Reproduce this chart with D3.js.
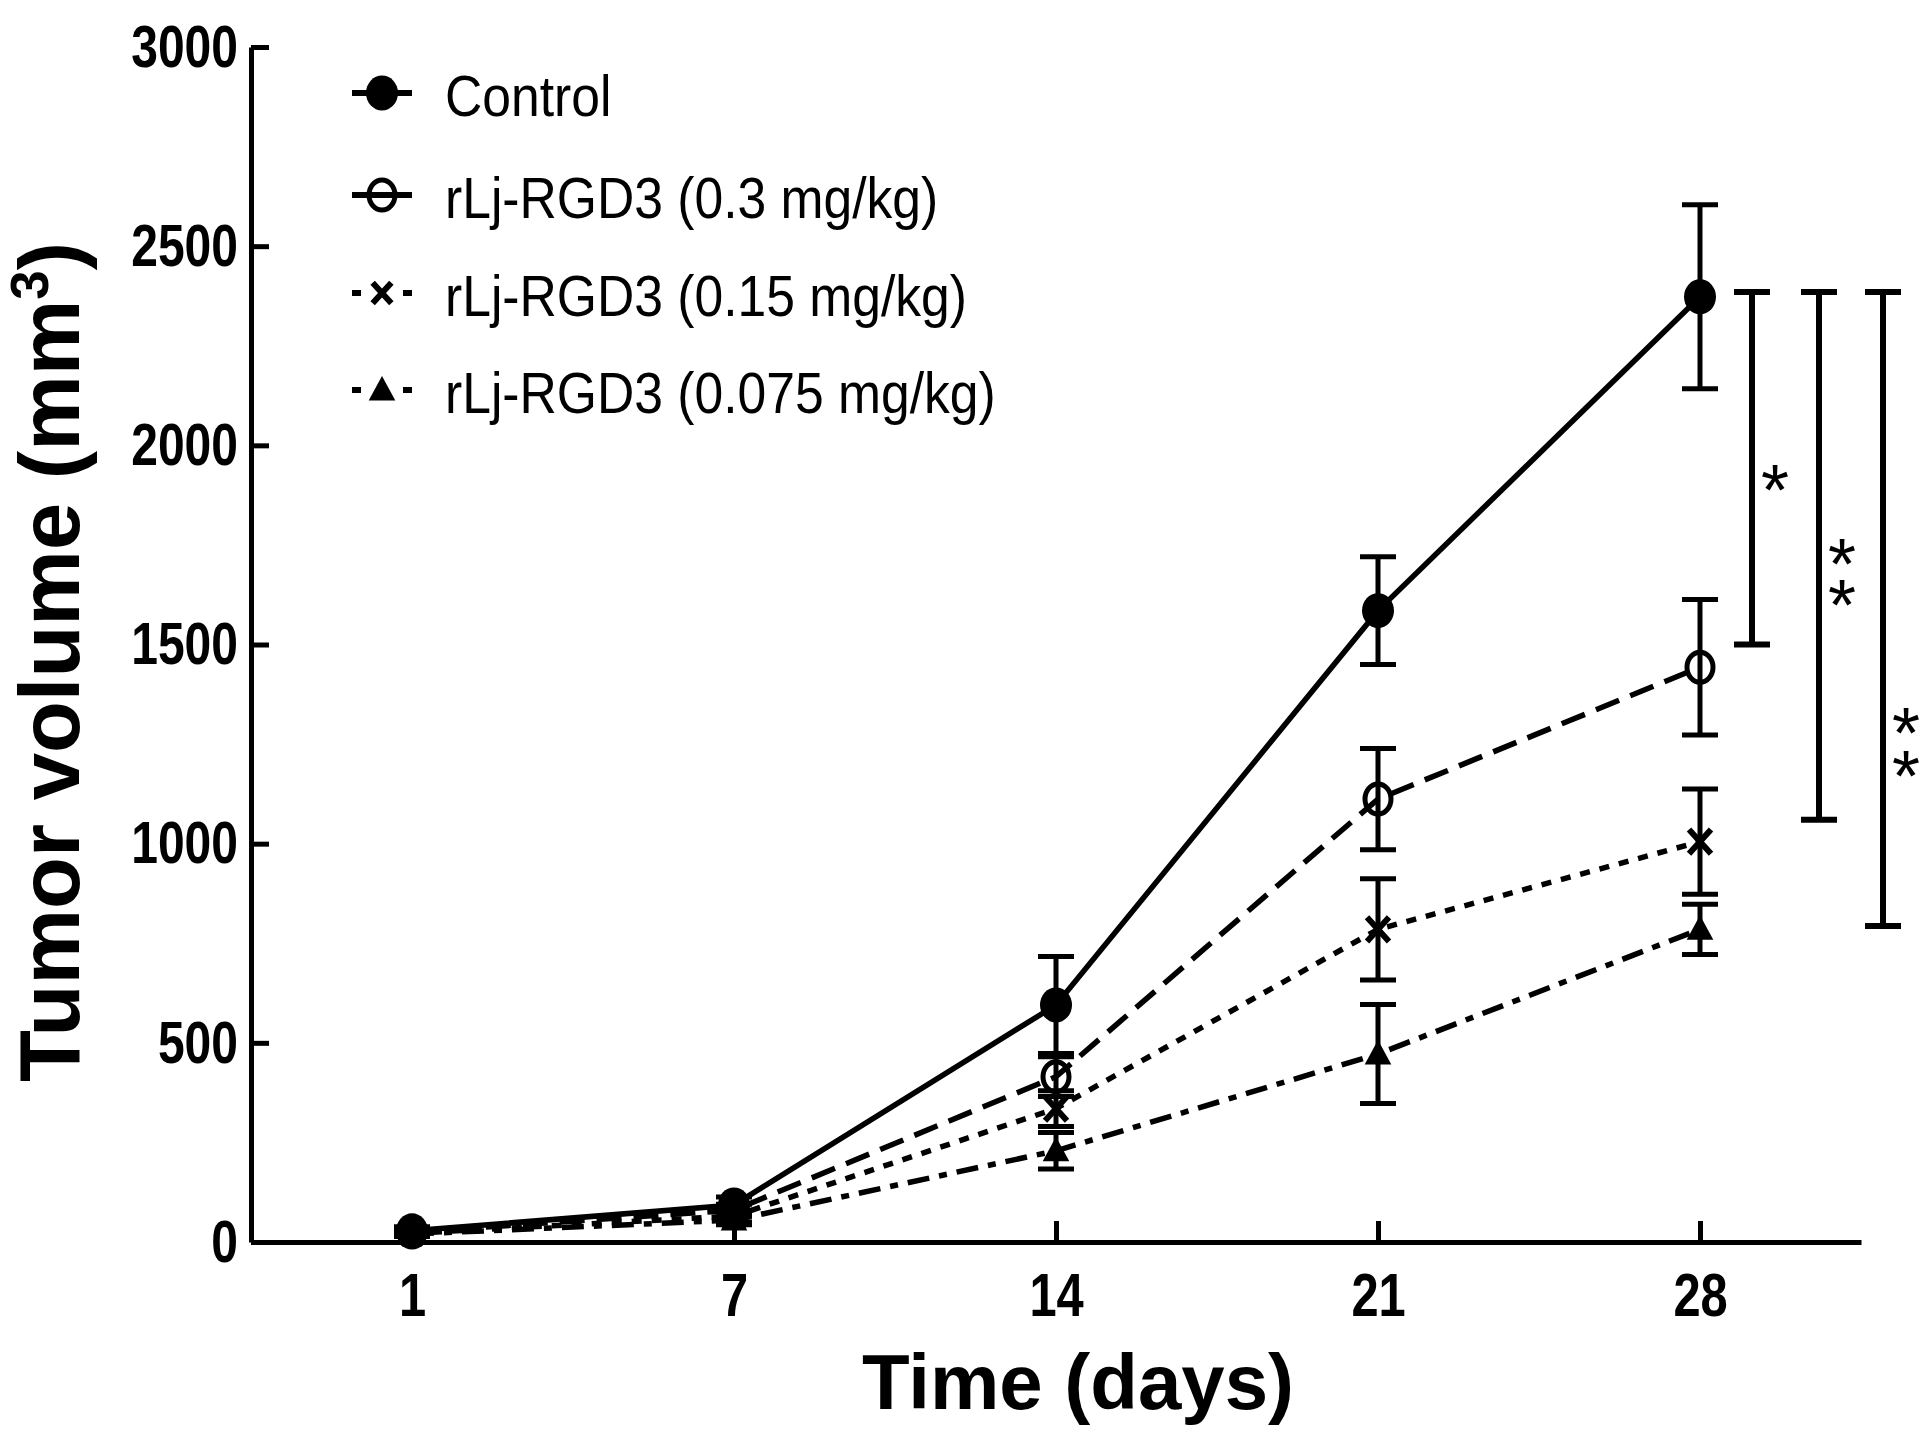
<!DOCTYPE html>
<html>
<head>
<meta charset="utf-8">
<script src="https://cdn.jsdelivr.net/npm/d3@7"></script>
<style>
  html, body { margin: 0; padding: 0; background: #fff; }
  svg { display: block; }
</style>
</head>
<body>
<script>
// ---------------- DATA ----------------
const days = ["1", "7", "14", "21", "28"];
const yTicks = [0, 500, 1000, 1500, 2000, 2500, 3000];

const seriesNames = ["Control", "rLj-RGD3 (0.3 mg/kg)", "rLj-RGD3 (0.15 mg/kg)", "rLj-RGD3 (0.075 mg/kg)"];
const controlMean  = [28, 93, 595, 1585, 2373];
const controlErr   = [10, 20, 122, 135, 231];
const dose03Mean   = [25, 80, 415, 1112, 1443];
const dose03Err    = [8, 15, 50, 127, 170];
const dose015Mean  = [22, 65, 335, 785, 1005];
const dose015Err   = [8, 15, 45, 127, 132];
const dose0075Mean = [20, 55, 229, 472, 785];
const dose0075Err  = [6, 12, 46, 124, 63];

const sigTop    = [2385, 2385, 2385];
const sigBottom = [1500, 1060, 793];
const sigLabels = ["*", "**", "**"];
const sigStarY  = [[1919], [1733, 1630], [1310, 1201]];

// ---------------- LAYOUT ----------------
const W = 1932, H = 1452;
const mLeft = 251, mRight = 1861, mTop = 47, mBottom = 1242;
const FONT = "'Liberation Sans', Arial, Helvetica, sans-serif";
const SX = 0.8; // horizontal squeeze of tick labels

const svg = d3.select("body").append("svg")
  .attr("width", W).attr("height", H)
  .attr("viewBox", `0 0 ${W} ${H}`);

const x = d3.scalePoint().domain(days).range([mLeft, mRight]).padding(0.5);
const y = d3.scaleLinear().domain([0, 3000]).range([mBottom, mTop]);

// axes
const yAxis = svg.append("g")
  .attr("transform", `translate(${mLeft},0)`)
  .call(d3.axisLeft(y).tickValues(yTicks).tickSizeInner(-18).tickSizeOuter(0).tickPadding(15).tickFormat(d3.format("d")));
yAxis.select(".domain").attr("stroke", "#000").attr("stroke-width", 5);
yAxis.selectAll(".tick line").attr("stroke", "#000").attr("stroke-width", 5);
yAxis.selectAll(".tick text")
  .attr("font-family", FONT).attr("font-weight", "bold").attr("font-size", 60)
  .attr("fill", "#000")
  .attr("x", -13 / SX)
  .attr("transform", `scale(${SX},1)`);

const xAxis = svg.append("g")
  .attr("transform", `translate(0,${mBottom})`)
  .call(d3.axisBottom(x).tickSizeInner(-21).tickSizeOuter(0).tickPadding(31));
xAxis.select(".domain").attr("stroke", "#000").attr("stroke-width", 5);
xAxis.selectAll(".tick line").attr("stroke", "#000").attr("stroke-width", 5);
xAxis.selectAll(".tick text")
  .attr("font-family", FONT).attr("font-weight", "bold").attr("font-size", 61)
  .attr("fill", "#000")
  .attr("transform", `scale(${SX},1)`);

// axis titles
svg.append("text")
  .attr("x", 1078).attr("y", 1409)
  .attr("text-anchor", "middle")
  .attr("font-family", FONT).attr("font-weight", "bold").attr("font-size", 78)
  .text("Time (days)");

const yt = svg.append("text")
  .attr("transform", `translate(79,662) rotate(-90)`)
  .attr("text-anchor", "middle")
  .attr("font-family", FONT).attr("font-weight", "bold").attr("font-size", 85);
yt.append("tspan").text("Tumor volume (mm");
yt.append("tspan").attr("dy", -31).attr("font-size", 53).text("3");
yt.append("tspan").attr("dy", 31).text(")");

// ---------------- SERIES ----------------
const series = [
  { name: seriesNames[0], mean: controlMean, err: controlErr, dash: null, legDash: null, marker: "filled" },
  { name: seriesNames[1], mean: dose03Mean, err: dose03Err, dash: "25,12", legDash: null, marker: "open" },
  { name: seriesNames[2], mean: dose015Mean, err: dose015Err, dash: "10,10", legDash: "9,42", marker: "cross" },
  { name: seriesNames[3], mean: dose0075Mean, err: dose0075Err, dash: "22,10,8,10", legDash: "9,42", marker: "triangle" }
];

const line = d3.line().x((d, i) => x(days[i])).y(d => y(d));
const capW = 18;

function drawMarker(g, type, cx, cy, scale) {
  const s = scale || 1;
  if (type === "filled") {
    g.append("ellipse").attr("cx", cx).attr("cy", cy).attr("rx", 16 * s).attr("ry", 17.5 * s).attr("fill", "#000");
  } else if (type === "open") {
    g.append("ellipse").attr("cx", cx).attr("cy", cy).attr("rx", 13 * s).attr("ry", 15 * s)
      .attr("fill", "none").attr("stroke", "#000").attr("stroke-width", 5);
  } else if (type === "cross") {
    const r = 11 * s;
    g.append("path").attr("d", `M${cx - r},${cy - r * 1.1}L${cx + r},${cy + r * 1.1}M${cx - r},${cy + r * 1.1}L${cx + r},${cy - r * 1.1}`)
      .attr("stroke", "#000").attr("stroke-width", 6).attr("fill", "none");
  } else if (type === "triangle") {
    const r = 14 * s;
    g.append("path").attr("d", `M${cx},${cy - r}L${cx + r * 0.95},${cy + r * 0.75}L${cx - r * 0.95},${cy + r * 0.75}Z`)
      .attr("fill", "#000");
  }
}

// draw series in reverse order so control is on top
series.slice().reverse().forEach(s => {
  const g = svg.append("g");
  g.append("path")
    .attr("d", line(s.mean))
    .attr("fill", "none").attr("stroke", "#000").attr("stroke-width", 5.5)
    .attr("stroke-dasharray", s.dash);
  s.mean.forEach((m, i) => {
    const cx = x(days[i]);
    const y1 = y(m + s.err[i]), y0 = y(m - s.err[i]);
    g.append("path")
      .attr("d", `M${cx},${y1}L${cx},${y0}M${cx - capW},${y1}L${cx + capW},${y1}M${cx - capW},${y0}L${cx + capW},${y0}`)
      .attr("stroke", "#000").attr("stroke-width", 5).attr("fill", "none");
    drawMarker(g, s.marker, cx, y(m));
  });
});

// ---------------- SIGNIFICANCE BRACKETS ----------------
const sigX = [x("28") + 52, x("28") + 119, x("28") + 183];
const STAR_FS = 72;
const STAR_HALF_ADV = 0.389 * STAR_FS / 2;   // half glyph advance
const STAR_RISE = 0.52 * STAR_FS;            // glyph centre above baseline
sigTop.forEach((t, i) => {
  const sx = sigX[i];
  svg.append("path")
    .attr("d", `M${sx},${y(t)}L${sx},${y(sigBottom[i])}M${sx - 18},${y(t)}L${sx + 18},${y(t)}M${sx - 18},${y(sigBottom[i])}L${sx + 18},${y(sigBottom[i])}`)
    .attr("stroke", "#000").attr("stroke-width", 6).attr("fill", "none");
  const cx = sx + 23;
  const ys = sigStarY[i].map(v => y(v));
  if (sigLabels[i].length === 1) {
    svg.append("text")
      .attr("x", cx - STAR_HALF_ADV).attr("y", ys[0] + STAR_RISE)
      .attr("font-family", FONT).attr("font-size", STAR_FS)
      .text(sigLabels[i]);
  } else {
    // stacked stars: one text running upwards, each glyph turned back upright
    const lower = d3.max(ys), upper = d3.min(ys);
    const gap = (lower - upper) - 2 * STAR_HALF_ADV;
    svg.append("text")
      .attr("transform", `translate(${cx - STAR_HALF_ADV},${lower + STAR_RISE}) rotate(-90)`)
      .attr("rotate", sigLabels[i].split("").map(() => 90).join(" "))
      .attr("font-family", FONT).attr("font-size", STAR_FS)
      .attr("letter-spacing", gap)
      .text(sigLabels[i]);
  }
});

// ---------------- LEGEND ----------------
const legY = [93, 195, 293, 390];
series.forEach((s, i) => {
  const g = svg.append("g");
  const ly = legY[i];
  g.append("line").attr("x1", 352).attr("x2", 412).attr("y1", ly).attr("y2", ly)
    .attr("stroke", "#000").attr("stroke-width", 6).attr("stroke-dasharray", s.legDash);
  drawMarker(g, s.marker, 382, ly, i === 2 ? 0.85 : 1);
  g.append("text")
    .attr("transform", `translate(445,${ly + 23}) scale(0.89,1)`)
    .attr("font-family", FONT).attr("font-size", 58)
    .text(s.name);
});
</script>
</body>
</html>
